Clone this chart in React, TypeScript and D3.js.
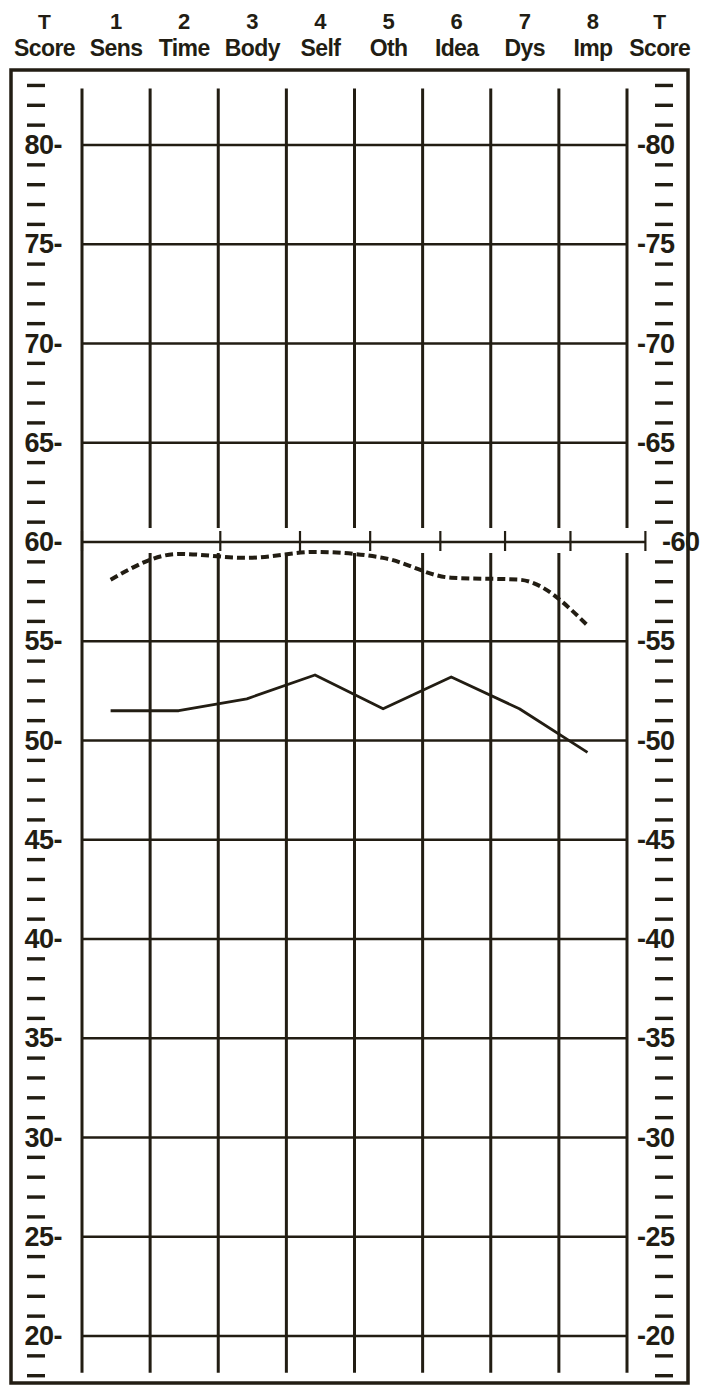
import React from "react";
import * as d3 from "d3";

const categories = ["Sens", "Time", "Body", "Self", "Oth", "Idea", "Dys", "Imp"];
const scaleNumbers = ["1", "2", "3", "4", "5", "6", "7", "8"];
const solidScores = [51.5, 51.5, 52.1, 53.3, 51.6, 53.2, 51.6, 49.4];
const dashedScores = [58.1, 59.4, 59.2, 59.5, 59.2, 58.2, 58.1, 55.8];
const tLabels = [80, 75, 70, 65, 60, 55, 50, 45, 40, 35, 30, 25, 20];
const minorTicks = d3.range(17, 84).filter((v) => v % 5 !== 0);
const ruleTicks60 = [0, 2.03, 3.2, 4.23, 5.26, 6.21, 7.17, 8.27];

const W = 704;
const H = 1387;
const INK = "#221d13";
const FONT = "'Liberation Sans', Arial, sans-serif";

export default function App() {
  const col = d3.scaleLinear().domain([0, 8]).range([82, 627]);
  const y = d3.scaleLinear().domain([80, 20]).range([145, 1336]);
  const px = (i: number) => col(i + 0.42);

  const solidPath = d3
    .line<number>()
    .x((_, i) => px(i))
    .y((d) => y(d))
    .curve(d3.curveLinear)(solidScores);
  const dashedPath = d3
    .line<number>()
    .x((_, i) => px(i))
    .y((d) => y(d))
    .curve(d3.curveMonotoneX)(dashedScores);

  const vTop = y(82.85);
  const vBot = y(18.15);
  const gapTop = y(60.7);
  const gapBot = y(59.45);

  return (
    <svg
      width={W}
      height={H}
      style={{ position: "absolute", left: 0, top: 0, background: "#fff" }}
    >
      <rect x={0} y={0} width={W} height={H} fill="#fff" />
      {/* header */}
      <g fill={INK} fontFamily={FONT} fontWeight="bold" textAnchor="middle">
        {categories.map((c, i) => (
          <g key={c}>
            <text x={col(i + 0.5)} y={29} fontSize={22}>
              {scaleNumbers[i]}
            </text>
            <text x={col(i + 0.5)} y={56} fontSize={23} letterSpacing={-0.6}>
              {c}
            </text>
          </g>
        ))}
        {[-0.55, 8.48].map((p) => (
          <g key={p}>
            <text x={col(p)} y={29} fontSize={21}>
              T
            </text>
            <text x={col(p)} y={56} fontSize={23} letterSpacing={-0.6}>
              Score
            </text>
          </g>
        ))}
      </g>

      {/* frame */}
      <rect
        x={11}
        y={70}
        width={677}
        height={1313}
        fill="none"
        stroke={INK}
        strokeWidth={3.5}
      />

      {/* horizontal grid */}
      <g stroke={INK} strokeWidth={2.6}>
        {tLabels.map((v) => (
          <line
            key={v}
            x1={col(0)}
            x2={v === 60 ? col(8.27) : col(8)}
            y1={y(v)}
            y2={y(v)}
          />
        ))}
      </g>
      {/* ticks on 60 rule */}
      <g stroke={INK} strokeWidth={2.2}>
        {ruleTicks60.map((t) => (
          <line key={t} x1={col(t)} x2={col(t)} y1={y(60) - 11} y2={y(60) + 9} />
        ))}
      </g>

      {/* vertical grid */}
      <g stroke={INK} strokeWidth={3}>
        {d3.range(0, 9).map((i) =>
          i === 0 ? (
            <line key={i} x1={col(i)} x2={col(i)} y1={vTop} y2={vBot} />
          ) : (
            <g key={i}>
              <line x1={col(i)} x2={col(i)} y1={vTop} y2={gapTop} />
              <line x1={col(i)} x2={col(i)} y1={gapBot} y2={vBot} />
            </g>
          )
        )}
      </g>

      {/* minor ticks */}
      <g stroke={INK} strokeWidth={3.4}>
        {minorTicks.map((v) => (
          <g key={v}>
            <line x1={27} x2={45} y1={y(v)} y2={y(v)} />
            <line x1={655} x2={673} y1={y(v)} y2={y(v)} />
          </g>
        ))}
      </g>

      {/* T score labels */}
      <g fill={INK} fontFamily={FONT} fontSize={27} fontWeight="bold">
        {tLabels.map((v) => (
          <g key={v}>
            <text x={62} y={y(v) + 9} textAnchor="end" letterSpacing={-0.5}>
              {`${v}-`}
            </text>
            <text
              x={v === 60 ? 662 : 637}
              y={y(v) + 9}
              textAnchor="start"
              letterSpacing={-0.5}
            >
              {`-${v}`}
            </text>
          </g>
        ))}
      </g>

      {/* profiles */}
      <path
        d={dashedPath || ""}
        fill="none"
        stroke={INK}
        strokeWidth={4}
        strokeDasharray="8 4"
      />
      <path
        d={solidPath || ""}
        fill="none"
        stroke={INK}
        strokeWidth={2.8}
        strokeLinejoin="round"
      />
    </svg>
  );
}
